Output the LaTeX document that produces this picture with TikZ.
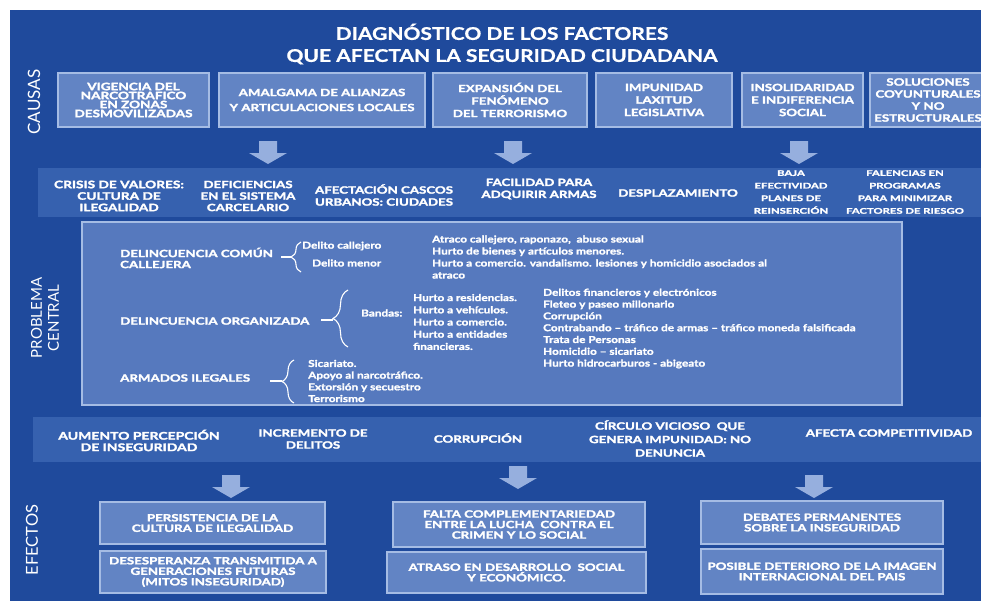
\documentclass[tikz,border=0pt]{standalone}
\usepackage{fontspec}
\setmainfont{Lato}
\newfontfamily\wfont{Lato}[FakeStretch=1.33, FakeBold=2.4]
\newfontfamily\sfont{Lato}[FakeStretch=1.45, FakeBold=2]
\newfontfamily\bfont{Lato}[FakeStretch=1.24, FakeBold=1.6]
\newfontfamily\tfont{Lato}[FakeStretch=1.2, FakeBold=0.8]
\usetikzlibrary{decorations.pathreplacing}
\definecolor{panel}{RGB}{31,74,156}
\definecolor{boxfill}{RGB}{98,132,196}
\definecolor{boxborder}{RGB}{165,188,228}
\definecolor{bandfill}{RGB}{54,97,175}
\definecolor{probfill}{RGB}{86,121,190}
\definecolor{arrowfill}{RGB}{150,175,222}
\tikzset{
  txt/.style={text=white, inner sep=0pt, align=center},
  capsA/.style={txt, font=\wfont\bfseries\fontsize{10}{11}\selectfont},
  capsB/.style={txt, font=\wfont\bfseries\fontsize{10}{12}\selectfont},
  capsS/.style={txt, font=\sfont\bfseries\fontsize{7.8}{12.6}\selectfont},
  body/.style={txt, align=left, anchor=west, font=\bfont\bfseries\fontsize{9.5}{12}\selectfont},
  hcaps/.style={txt, align=left, anchor=west, font=\wfont\bfseries\fontsize{10}{11}\selectfont},
  causebox/.style={capsA, draw=boxborder, fill=boxfill, line width=1.6pt},
  effbox/.style={capsA, draw=boxborder, fill=boxfill, line width=1.6pt, font=\wfont\bfseries\fontsize{10}{10.5}\selectfont},
  band/.style={fill=bandfill, inner sep=0pt},
  probbox/.style={draw=boxborder, fill=probfill, line width=1.6pt, inner sep=0pt},
  side/.style={text=white, inner sep=0pt, align=center, rotate=90},
  bracestyle/.style={draw=white, line width=1.1pt, decorate},
  tick/.style={draw=white, line width=1.1pt},
  downarrow/.pic={\fill[arrowfill] (-9,0) -- (9,0) -- (9,12) -- (19,12) -- (0,23) -- (-19,12) -- (-9,12) -- cycle;}
}
\begin{document}
\begin{tikzpicture}[x=1pt,y=-1pt]
\useasboundingbox (0,0) rectangle (981,607);
\fill[white] (0,0) rectangle (981,607);
\fill[panel] (10,10) rectangle (981,601);

% title
\node[txt, font=\tfont\bfseries\fontsize{17.5}{22}\selectfont] (title) at (502,44) {DIAGNÓSTICO DE LOS FACTORES\\QUE AFECTAN LA SEGURIDAD CIUDADANA};

% side labels
\node[side, font=\fontsize{17}{17}\selectfont] (causas) at (34,102) {CAUSAS};
\node[side, font=\fontsize{15}{17}\selectfont] (prob) at (45,318) {PROBLEMA\\CENTRAL};
\node[side, font=\fontsize{16.5}{17}\selectfont] (efectos) at (32,540) {EFECTOS};

% causes
\node[causebox, font=\wfont\bfseries\fontsize{10.2}{9}\selectfont, minimum width=151, minimum height=54] (c1) at (133.5,100) {VIGENCIA DEL\\NARCOTRAFICO\\EN ZONAS\\DESMOVILIZADAS};
\node[causebox, font=\wfont\bfseries\fontsize{10}{15}\selectfont, minimum width=206, minimum height=54] (c2) at (322,100) {AMALGAMA DE ALIANZAS\\Y ARTICULACIONES LOCALES};
\node[causebox, font=\wfont\bfseries\fontsize{10}{12.5}\selectfont, minimum width=154, minimum height=54] (c3) at (510,100) {EXPANSIÓN DEL\\FENÓMENO\\DEL TERRORISMO};
\node[causebox, font=\wfont\bfseries\fontsize{10}{12.5}\selectfont, minimum width=136, minimum height=54] (c4) at (664,100) {IMPUNIDAD\\LAXITUD\\LEGISLATIVA};
\node[causebox, font=\wfont\bfseries\fontsize{10}{12.5}\selectfont, minimum width=121, minimum height=54] (c5) at (802.5,100) {INSOLIDARIDAD\\E INDIFERENCIA\\SOCIAL};
\node[causebox, font=\wfont\bfseries\fontsize{10}{12}\selectfont, minimum width=116, minimum height=54] (c6) at (928,100) {SOLUCIONES\\COYUNTURALES\\Y NO\\ESTRUCTURALES};

% row 2 band
\node[band, minimum width=943, minimum height=49] (band1) at (509.5,192.5) {};
\pic at (268,141) {downarrow};
\pic at (513,141) {downarrow};
\pic at (799,141) {downarrow};
\node[capsB, font=\wfont\bfseries\fontsize{10.3}{11.5}\selectfont] (r1) at (119,196) {CRISIS DE VALORES:\\CULTURA DE\\ILEGALIDAD};
\node[capsB, font=\wfont\bfseries\fontsize{10}{11.5}\selectfont] (r2) at (248,196) {DEFICIENCIAS\\EN EL SISTEMA\\CARCELARIO};
\node[capsB] (r3) at (384,195) {AFECTACIÓN CASCOS\\URBANOS: CIUDADES};
\node[capsB] (r4) at (539,189) {FACILIDAD PARA\\ADQUIRIR ARMAS};
\node[capsB] (r5) at (678,193) {DESPLAZAMIENTO};
\node[capsS] (r6) at (791,192) {BAJA\\EFECTIVIDAD\\PLANES DE\\REINSERCIÓN};
\node[capsS] (r7) at (905,192) {FALENCIAS EN\\PROGRAMAS\\PARA MINIMIZAR\\FACTORES DE RIESGO};

% problema central
\node[probbox, minimum width=820, minimum height=183] (pc) at (492,313.5) {};
\node[hcaps] (dcc) at (120,258) {DELINCUENCIA COMÚN\\CALLEJERA};
\node[body] (dcall) at (302,246) {Delito callejero};
\node[body] (dmen) at (312,263) {Delito menor};
\node[body] (l1) at (432,257) {Atraco callejero, raponazo,\ \ abuso sexual\\Hurto de bienes y artículos menores.\\Hurto a comercio. vandalismo. lesiones y homicidio asociados al\\atraco};
\node[hcaps] (dorg) at (120,321) {DELINCUENCIA ORGANIZADA};
\node[body] (bandas) at (361,313) {Bandas:};
\node[body, font=\bfont\bfseries\fontsize{9.5}{12.2}\selectfont] (l2) at (413,322) {Hurto a residencias.\\Hurto a vehículos.\\Hurto a comercio.\\Hurto a entidades\\financieras.};
\node[body, font=\bfont\bfseries\fontsize{9.5}{11.8}\selectfont] (l3) at (543,328.5) {Delitos financieros y electrónicos\\Fleteo y paseo millonario\\Corrupción\\Contrabando – tráfico de armas – tráfico moneda falsificada\\Trata de Personas\\Homicidio – sicariato\\Hurto hidrocarburos - abigeato};
\node[hcaps] (arm) at (120,378) {ARMADOS ILEGALES};
\node[body, font=\bfont\bfseries\fontsize{9.5}{11.7}\selectfont] (l4) at (308,381) {Sicariato.\\Apoyo al narcotráfico.\\Extorsión y secuestro\\Terrorismo};

% braces
\coordinate (tip1) at (291,257);
\coordinate (tip2) at (333,320);
\coordinate (tip3) at (282,381);
\draw[bracestyle, decoration={brace, amplitude=10pt}] (301,272) -- (301,242);
\draw[bracestyle, decoration={brace, amplitude=15pt}] (348,347) -- (348,290);
\draw[bracestyle, decoration={brace, amplitude=12pt}] (294,403) -- (294,360);
\draw[tick] (281,257) -- (tip1);
\draw[tick] (321,320) -- (tip2);
\draw[tick] (270,381) -- (tip3);

% row 4 band
\node[band, minimum width=948, minimum height=45] (band2) at (507,439.5) {};
\node[capsB, font=\wfont\bfseries\fontsize{10.5}{11.5}\selectfont] (e1) at (139,440.5) {AUMENTO PERCEPCIÓN\\DE INSEGURIDAD};
\node[capsB] (e2) at (313,439) {INCREMENTO DE\\DELITOS};
\node[capsB] (e3) at (478,438) {CORRUPCIÓN};
\node[capsB, font=\wfont\bfseries\fontsize{10}{13.5}\selectfont] (e4) at (670,438.5) {CÍRCULO VICIOSO\ \ QUE\\GENERA IMPUNIDAD: NO\\DENUNCIA};
\node[capsB] (e5) at (889,433) {AFECTA COMPETITIVIDAD};

\pic at (231,475) {downarrow};
\pic at (518,466) {downarrow};
\pic at (814,475) {downarrow};

% effects
\node[effbox, minimum width=225, minimum height=42] (f1) at (212.5,523) {PERSISTENCIA DE LA\\CULTURA DE ILEGALIDAD};
\node[effbox, minimum width=226, minimum height=42] (f2) at (213,572) {DESESPERANZA TRANSMITIDA A\\GENERACIONES FUTURAS\\(MITOS INSEGURIDAD)};
\node[effbox, minimum width=252, minimum height=45] (f3) at (519,524.5) {FALTA COMPLEMENTARIEDAD\\ENTRE LA LUCHA\ \ CONTRA EL\\CRIMEN Y LO SOCIAL};
\node[effbox, minimum width=259, minimum height=41] (f4) at (516.5,572.5) {ATRASO EN DESARROLLO\ \ SOCIAL\\Y ECONÓMICO.};
\node[effbox, minimum width=242, minimum height=43] (f5) at (822,522.5) {DEBATES PERMANENTES\\SOBRE LA INSEGURIDAD};
\node[effbox, minimum width=242, minimum height=45] (f6) at (822,571.5) {POSIBLE DETERIORO DE LA IMAGEN\\INTERNACIONAL DEL PAIS};
\end{tikzpicture}
\end{document}
